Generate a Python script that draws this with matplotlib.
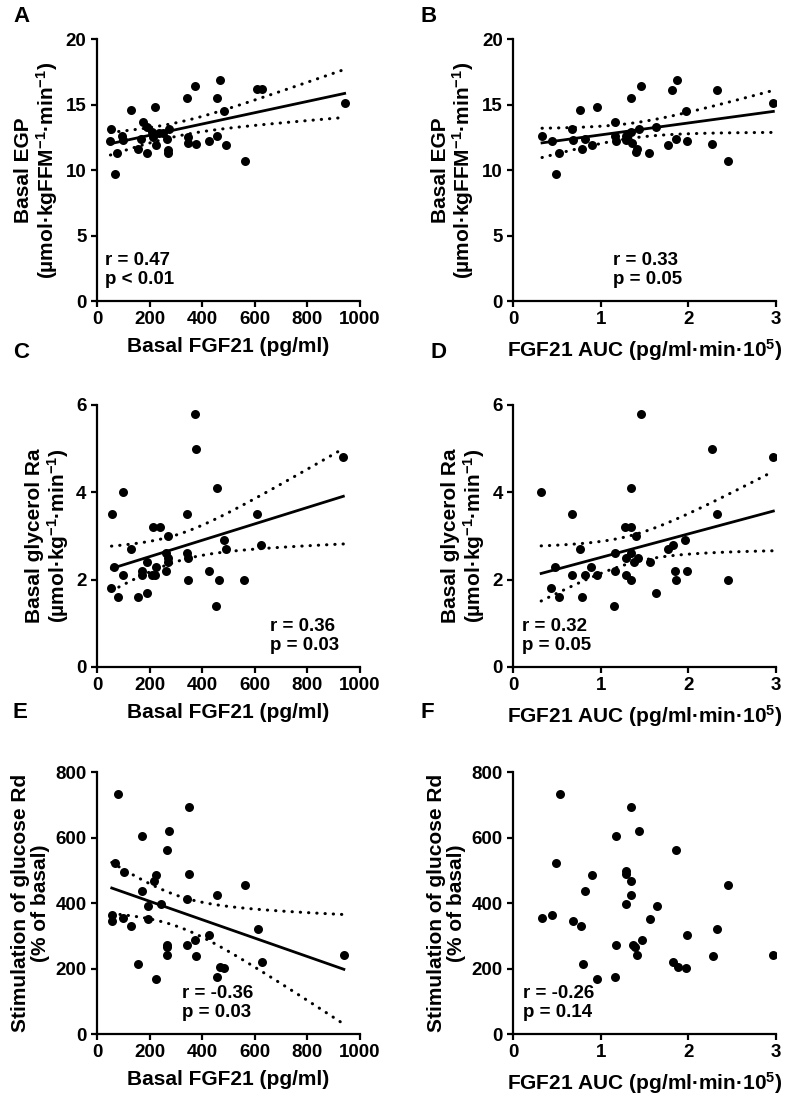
import numpy as np
import matplotlib
matplotlib.use("Agg")
from matplotlib import pyplot as plt

plt.rcParams['font.family'] = ['Liberation Sans', 'DejaVu Sans']
plt.rcParams['font.weight'] = 'bold'
plt.rcParams['mathtext.fontset'] = 'custom'
plt.rcParams['mathtext.rm'] = 'Liberation Sans:bold'
plt.rcParams['mathtext.it'] = 'Liberation Sans:bold'
plt.rcParams['mathtext.bf'] = 'Liberation Sans:bold'
plt.rcParams['mathtext.default'] = 'bf'

# Panel A: basal FGF21 vs basal EGP
a_x = [54, 51, 67, 77, 96, 98, 128, 154, 169, 173, 190, 190, 208, 212, 222, 224, 237, 250,
       267, 269, 269, 272, 341, 346, 346, 372, 376, 427, 455, 455, 468, 483, 491, 562, 609, 628, 942]
a_y = [13.1, 12.2, 9.7, 11.3, 12.6, 12.3, 14.6, 11.6, 12.4, 13.7, 13.3, 11.3, 12.9, 12.5, 14.8, 11.9, 12.8, 12.8,
       12.4, 11.5, 11.3, 13.1, 15.5, 12.5, 12.1, 16.4, 12.0, 12.2, 15.5, 12.6, 16.9, 14.5, 11.9, 10.7, 16.2, 16.2, 15.1]

# Panel B: FGF21 AUC vs basal EGP
b_x = [0.33, 0.44, 0.49, 0.52, 0.67, 0.68, 0.76, 0.79, 0.82, 0.90, 0.96, 1.16, 1.16, 1.17, 1.29, 1.29, 1.34, 1.35,
       1.36, 1.40, 1.41, 1.44, 1.46, 1.55, 1.63, 1.77, 1.81, 1.86, 1.87, 1.97, 1.98, 2.27, 2.33, 2.45, 2.97]
b_y = [12.6, 12.2, 9.7, 11.3, 13.1, 12.3, 14.6, 11.6, 12.4, 11.9, 14.8, 13.7, 12.6, 12.2, 12.6, 12.3, 15.5, 12.9,
       12.1, 11.4, 11.6, 13.1, 16.4, 11.3, 13.3, 11.9, 16.1, 12.4, 16.9, 14.5, 12.2, 12.0, 16.1, 10.7, 15.1]

# Panel C: basal FGF21 vs basal glycerol Ra
c_x = [57, 66, 55, 79, 98, 100, 131, 155, 191, 191, 171, 171, 212, 240, 225, 210, 222, 269, 264,
       271, 269, 264, 342, 342, 347, 347, 371, 375, 426, 455, 452, 465, 482, 490, 560, 610, 625, 937]
c_y = [3.5, 2.3, 1.8, 1.6, 4.0, 2.1, 2.7, 1.6, 1.7, 2.4, 2.2, 2.1, 3.2, 3.2, 2.3, 2.1, 2.1, 3.0, 2.6,
       2.5, 2.4, 2.2, 3.5, 2.6, 2.5, 2.0, 5.8, 5.0, 2.2, 4.1, 1.4, 2.0, 2.9, 2.7, 2.0, 3.5, 2.8, 4.8]

# Panel D: FGF21 AUC vs basal glycerol Ra
d_x = [0.32, 0.43, 0.48, 0.52, 0.67, 0.67, 0.76, 0.79, 0.82, 0.89, 0.96, 1.15, 1.16, 1.16, 1.29, 1.29, 1.28, 1.34,
       1.34, 1.35, 1.35, 1.38, 1.40, 1.43, 1.46, 1.56, 1.63, 1.77, 1.82, 1.85, 1.86, 1.96, 1.98, 2.27, 2.33, 2.45, 2.97]
d_y = [4.0, 1.8, 2.3, 1.6, 3.5, 2.1, 2.7, 1.6, 2.1, 2.3, 2.1, 1.4, 2.6, 2.2, 2.5, 2.1, 3.2, 3.2,
       4.1, 2.6, 2.0, 2.4, 3.0, 2.5, 5.8, 2.4, 1.7, 2.7, 2.8, 2.2, 2.0, 2.9, 2.2, 5.0, 3.5, 2.0, 4.8]

# Panel E: basal FGF21 vs stimulation of glucose Rd
e_x = [79, 348, 172, 275, 265, 69, 101, 225, 215, 348, 172, 343, 457, 562, 192, 242, 56, 56,
       98, 131, 192, 427, 372, 344, 266, 268, 268, 377, 611, 627, 157, 467, 483, 455, 224, 939]
e_y = [733, 692, 604, 621, 563, 521, 496, 485, 467, 489, 438, 413, 425, 455, 390, 398, 363, 345,
       355, 329, 350, 303, 287, 273, 273, 265, 242, 239, 321, 221, 213, 206, 202, 175, 167, 241]

# Panel F: FGF21 AUC vs stimulation of glucose Rd
f_x = [0.53, 1.35, 1.17, 1.44, 1.86, 0.49, 0.90, 1.29, 1.29, 1.35, 0.82, 1.35, 2.45, 1.64, 1.29, 0.33, 0.44, 0.68,
       0.77, 1.56, 1.99, 2.33, 1.47, 1.17, 1.37, 1.39, 1.41, 2.28, 2.97, 1.82, 1.88, 1.97, 0.80, 0.96, 1.16]
f_y = [733, 692, 604, 621, 563, 521, 485, 497, 489, 467, 438, 425, 455, 390, 398, 353, 363, 346,
       329, 351, 303, 321, 287, 273, 273, 265, 242, 239, 241, 221, 206, 202, 213, 167, 175]

basal_label = "Basal FGF21 (pg/ml)"
auc_label = "FGF21 AUC (pg/ml·min·10$^{5}$)"
egp_label = "Basal EGP\n(µmol·kgFFM$^{-1}$·min$^{-1}$)"
gly_label = "Basal glycerol Ra\n(µmol·kg$^{-1}$·min$^{-1}$)"
rd_label = "Stimulation of glucose Rd\n(% of basal)"

panels = [
    ("A", a_x, a_y, basal_label, egp_label, "r = 0.47\np < 0.01", 0.03, True),
    ("B", b_x, b_y, auc_label, egp_label, "r = 0.33\np = 0.05", 0.38, True),
    ("C", c_x, c_y, basal_label, gly_label, "r = 0.36\np = 0.03", 0.657, True),
    ("D", d_x, d_y, auc_label, gly_label, "r = 0.32\np = 0.05", 0.034, True),
    ("E", e_x, e_y, basal_label, rd_label, "r = -0.36\np = 0.03", 0.325, True),
    ("F", f_x, f_y, auc_label, rd_label, "r = -0.26\np = 0.14", 0.037, False),
]

ylims = {"A": (20, 5), "B": (20, 5), "C": (6, 2), "D": (6, 2), "E": (800, 200), "F": (800, 200)}

fig = plt.figure(figsize=(7.87, 11.12), dpi=100)

W = 0.334
H = 0.2356
lefts = [0.1233, 0.652]
bottoms = [0.7293, 0.4002, 0.0701]
letter_x = {"A": 13, "B": 421, "C": 13, "D": 430, "E": 13, "F": 421}
letter_y = {"A": 17, "B": 17, "C": 352, "D": 352, "E": 712, "F": 712}


def fit_lines(x, y):
    x = np.asarray(x, float)
    y = np.asarray(y, float)
    n = len(x)
    slope, icpt = np.polyfit(x, y, 1)
    xs = np.linspace(x.min(), x.max(), 100)
    yhat = slope * xs + icpt
    resid = y - (slope * x + icpt)
    s = np.sqrt(np.sum(resid ** 2) / (n - 2))
    sxx = np.sum((x - x.mean()) ** 2)
    se = s * np.sqrt(1.0 / n + (xs - x.mean()) ** 2 / sxx)
    t = 2.03
    return xs, yhat, yhat - t * se, yhat + t * se


for i, (letter, x, y, xl, yl, stat, tx, show_fit) in enumerate(panels):
    row, col = divmod(i, 2)
    ax = fig.add_axes([lefts[col], bottoms[row], W, H])
    ax.scatter(x, y, s=42, color="black", zorder=3, linewidths=0)
    if show_fit:
        xs, yhat, lo, hi = fit_lines(x, y)
        ax.plot(xs, yhat, color="black", lw=2)
        ax.plot(xs, lo, color="black", lw=2.2, linestyle=(0, (0.1, 2.6)), dash_capstyle="round")
        ax.plot(xs, hi, color="black", lw=2.2, linestyle=(0, (0.1, 2.6)), dash_capstyle="round")

    if col == 0:
        ax.set_xlim(0, 1000)
        ax.set_xticks([0, 200, 400, 600, 800, 1000])
    else:
        ax.set_xlim(0, 3)
        ax.set_xticks([0, 1, 2, 3])
    top, step = ylims[letter]
    ax.set_ylim(0, top)
    ax.set_yticks(np.arange(0, top + step, step))

    for sp in ["top", "right"]:
        ax.spines[sp].set_visible(False)
    for sp in ["left", "bottom"]:
        ax.spines[sp].set_linewidth(1.6)
    ax.tick_params(width=1.6, length=4.5, labelsize=13.5, pad=3)
    for lab in ax.get_xticklabels() + ax.get_yticklabels():
        lab.set_fontweight("bold")

    ax.set_xlabel(xl, fontsize=15, fontweight="bold", labelpad=6)
    ax.set_ylabel(yl, fontsize=15, fontweight="bold", linespacing=1.05)

    ax.text(tx, 0.05, stat, transform=ax.transAxes, ha="left", va="bottom",
            fontsize=13.5, fontweight="bold", linespacing=1.15)

    fig.text(letter_x[letter] / 787, 1 - letter_y[letter] / 1112, letter,
             fontsize=16, fontweight="bold", va="center", ha="left")

fig.savefig("out.png", dpi=100)
